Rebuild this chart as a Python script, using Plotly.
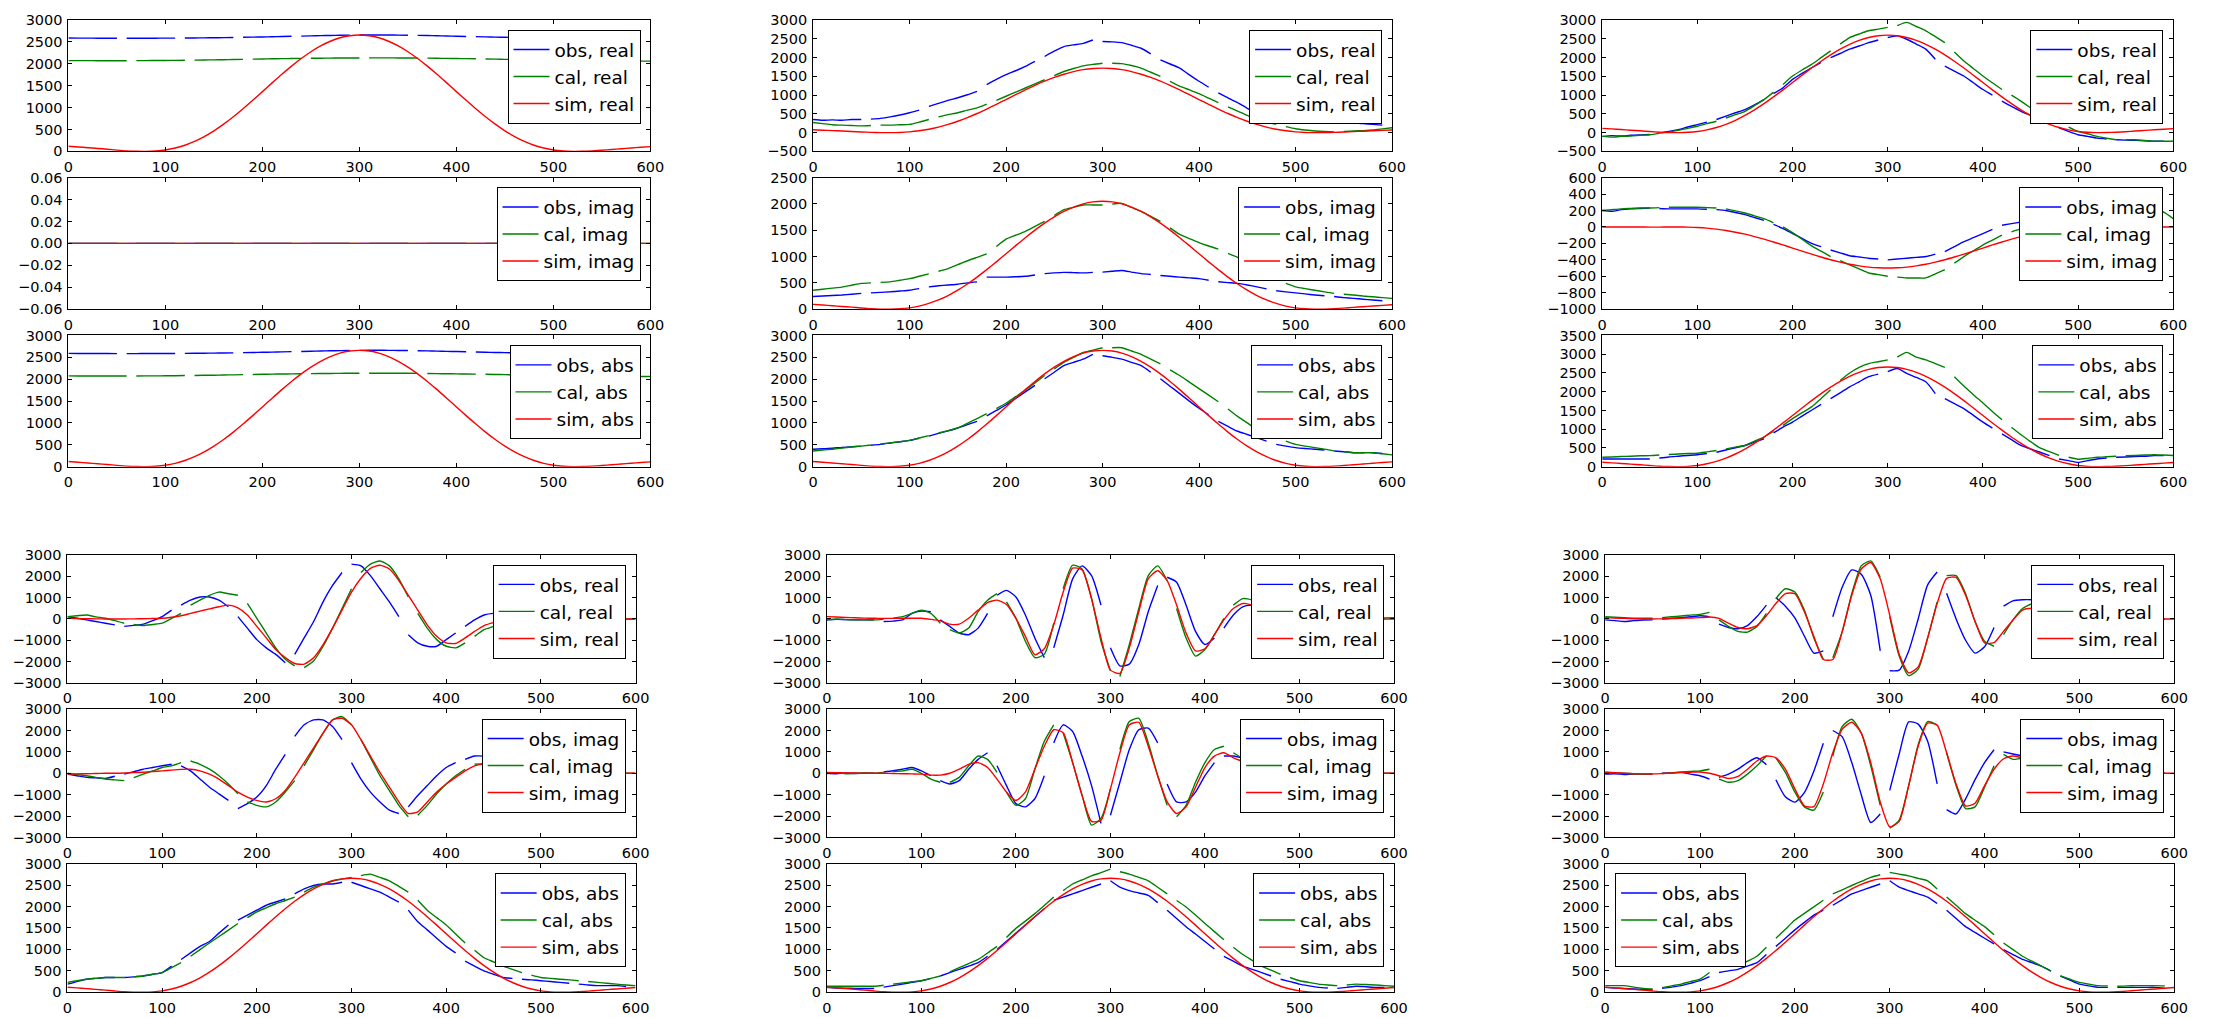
import plotly.graph_objects as go

# ---------------------------------------------------------------- data
X = list(range(0, 601, 10))

OBS_GAPS = [55, 115, 175, 235, 295, 355, 415, 475, 535, 595]
CAL_GAPS = [64, 124, 184, 244, 304, 364, 424, 484, 544]
CAL_GAPS_BR = [57, 117, 177, 237, 297, 357, 417, 477, 537, 597]

COMPONENTS = ["real", "imag", "abs"]

SIM_ABS = [118, 102, 85, 68, 50, 30, 12, 3, 1, 9,
           33, 77, 141, 228, 338, 470, 622, 791, 974, 1167,
           1366, 1566, 1762, 1949, 2122, 2277, 2410, 2517, 2596, 2644,
           2660, 2644, 2596, 2517, 2410, 2277, 2122, 1949, 1762, 1566,
           1366, 1167, 974, 791, 622, 470, 338, 228, 141, 77,
           33, 9, 1, 3, 12, 27, 44, 61, 78, 94, 110]

# top-left
TL_OBS = [2590, 2589, 2588, 2587, 2587, 2586, 2586, 2586, 2587, 2587,
          2588, 2589, 2590, 2592, 2594, 2597, 2600, 2603, 2607, 2611,
          2615, 2620, 2625, 2630, 2635, 2640, 2645, 2650, 2654, 2657,
          2660, 2661, 2661, 2660, 2658, 2655, 2651, 2647, 2642, 2637,
          2632, 2627, 2622, 2617, 2612, 2607, 2602, 2598, 2594, 2590,
          2586, 2583, 2580, 2578, 2576, 2574, 2572, 2570, 2568, 2566, 2565]
TL_CAL = [2075, 2074, 2074, 2073, 2073, 2073, 2073, 2074, 2075, 2076,
          2078, 2080, 2083, 2086, 2089, 2092, 2096, 2100, 2104, 2108,
          2112, 2116, 2119, 2122, 2125, 2128, 2130, 2132, 2134, 2135,
          2136, 2137, 2137, 2137, 2136, 2135, 2133, 2131, 2128, 2125,
          2122, 2119, 2116, 2112, 2108, 2104, 2100, 2096, 2092, 2088,
          2085, 2082, 2079, 2076, 2073, 2071, 2069, 2067, 2065, 2063, 2062]
TL_IMAG = [0.0] * 61

# top-middle
TM_OBS_REAL = [350, 330, 340, 330, 350, 350, 360, 380, 420, 470,
               530, 600, 700, 780, 860, 930, 1010, 1100, 1280, 1420,
               1545, 1650, 1765, 1900, 2030, 2170, 2295, 2340, 2380, 2470,
               2430, 2420, 2400, 2330, 2250, 2100, 1940, 1830, 1720, 1540,
               1370, 1210, 1060, 930, 800, 650, 520, 460, 420, 390,
               355, 330, 310, 290, 280, 270, 260, 240, 220, 200, 180]
TM_CAL_REAL = [270, 240, 210, 200, 190, 180, 190, 200, 200, 210,
               220, 280, 350, 420, 480, 530, 600, 660, 760, 860,
               970, 1080, 1190, 1300, 1410, 1520, 1630, 1710, 1780, 1820,
               1850, 1850, 1840, 1790, 1720, 1610, 1500, 1370, 1240, 1140,
               1040, 920, 800, 690, 575, 460, 355, 280, 220, 160,
               105, 70, 45, 30, 20, 30, 45, 55, 70, 100, 130]
TM_SIM_REAL = [76, 66, 55, 44, 32, 19, 8, 2, 1, 6,
               21, 50, 91, 147, 219, 304, 402, 511, 630, 755,
               883, 1013, 1139, 1260, 1372, 1472, 1558, 1628, 1679, 1710,
               1720, 1710, 1679, 1628, 1558, 1472, 1372, 1260, 1139, 1013,
               883, 755, 630, 511, 402, 304, 219, 147, 91, 50,
               21, 6, 1, 2, 8, 17, 28, 39, 50, 61, 71]
TM_OBS_IMAG = [240, 250, 260, 270, 285, 300, 310, 320, 330, 345,
               360, 390, 425, 445, 460, 475, 500, 520, 610, 610,
               610, 615, 625, 650, 675, 690, 700, 695, 690, 700,
               705, 720, 735, 705, 675, 660, 640, 625, 610, 595,
               580, 550, 520, 505, 490, 460, 425, 385, 350, 330,
               310, 290, 270, 255, 240, 220, 205, 190, 175, 160, 145]
TM_CAL_IMAG = [360, 380, 400, 420, 455, 490, 500, 510, 520, 550,
               580, 625, 670, 720, 770, 845, 920, 985, 1050, 1190,
               1330, 1405, 1480, 1575, 1670, 1780, 1890, 1935, 1980, 1980,
               1980, 1995, 2010, 1935, 1860, 1765, 1670, 1545, 1420, 1340,
               1265, 1200, 1140, 1060, 985, 890, 800, 675, 550, 490,
               425, 390, 360, 330, 300, 285, 270, 250, 235, 220, 205]
TM_SIM_IMAG = [91, 79, 66, 52, 39, 23, 9, 2, 1, 7,
               25, 59, 109, 176, 260, 362, 479, 610, 751, 899,
               1053, 1207, 1358, 1502, 1635, 1755, 1857, 1940, 2001, 2038,
               2050, 2038, 2001, 1940, 1857, 1755, 1635, 1502, 1358, 1207,
               1053, 899, 751, 610, 479, 362, 260, 176, 109, 59,
               25, 7, 1, 2, 9, 21, 34, 47, 60, 72, 85]
TM_OBS_ABS = [400, 410, 420, 440, 455, 470, 490, 510, 540, 570,
              600, 650, 700, 760, 820, 885, 960, 1035, 1160, 1285,
              1410, 1560, 1710, 1860, 2010, 2160, 2310, 2385, 2460, 2570,
              2535, 2500, 2460, 2385, 2310, 2160, 2010, 1840, 1670, 1500,
              1335, 1185, 1035, 920, 810, 735, 660, 585, 510, 470,
              435, 415, 400, 380, 360, 340, 320, 320, 320, 300, 285]
TM_CAL_ABS = [360, 380, 400, 425, 450, 470, 495, 520, 545, 570,
              600, 655, 710, 770, 825, 885, 990, 1100, 1215, 1330,
              1450, 1600, 1750, 1915, 2085, 2235, 2385, 2500, 2610, 2665,
              2720, 2720, 2720, 2645, 2570, 2460, 2350, 2215, 2085, 1935,
              1785, 1635, 1485, 1320, 1150, 1000, 850, 755, 660, 585,
              510, 470, 435, 400, 360, 340, 320, 320, 320, 295, 270]

# top-right
TR_OBS_REAL = [-100, -80, -90, -70, -60, -50, -10, 30, 80, 150,
               215, 280, 350, 440, 530, 615, 740, 880, 1040, 1195,
               1420, 1580, 1730, 1870, 2000, 2110, 2225, 2310, 2400, 2470,
               2535, 2580, 2490, 2360, 2225, 1955, 1775, 1640, 1510, 1330,
               1150, 1000, 840, 700, 570, 460, 350, 240, 125, 30,
               -55, -100, -145, -170, -190, -200, -205, -215, -230, -230, -230]
TR_CAL_REAL = [-100, -120, -100, -90, -70, -55, -20, 20, 60, 115,
               170, 240, 305, 390, 480, 570, 720, 880, 1080, 1285,
               1510, 1670, 1820, 2000, 2180, 2360, 2535, 2630, 2715, 2760,
               2805, 2850, 2940, 2830, 2715, 2560, 2400, 2150, 1910, 1710,
               1510, 1330, 1150, 1000, 840, 660, 480, 370, 260, 150,
               35, -30, -100, -150, -190, -190, -190, -210, -230, -230, -230]
TR_SIM_REAL = [115, 100, 83, 66, 49, 29, 12, 3, 1, 9,
               32, 75, 138, 223, 330, 459, 608, 773, 952, 1140,
               1335, 1530, 1722, 1904, 2073, 2225, 2355, 2459, 2536, 2583,
               2600, 2583, 2536, 2459, 2355, 2225, 2073, 1904, 1722, 1530,
               1335, 1140, 952, 773, 608, 459, 330, 223, 138, 75,
               32, 9, 1, 3, 12, 26, 43, 60, 76, 92, 108]
TR_OBS_IMAG = [200, 190, 210, 220, 225, 230, 225, 220, 220, 220,
               220, 215, 210, 200, 175, 150, 115, 80, 30, -20,
               -80, -140, -200, -240, -280, -315, -350, -365, -380, -390,
               -400, -390, -380, -370, -360, -330, -300, -240, -180, -130,
               -80, -30, 20, 40, 60, 80, 100, 125, 150, 165,
               180, 190, 200, 200, 200, 200, 200, 200, 200, 180, 150]
TR_CAL_IMAG = [200, 210, 220, 225, 230, 230, 235, 240, 240, 240,
               240, 235, 230, 220, 195, 170, 135, 100, 50, 0,
               -70, -150, -230, -295, -360, -410, -460, -510, -560, -580,
               -600, -610, -620, -620, -620, -570, -520, -440, -360, -290,
               -220, -160, -100, -60, -20, 15, 50, 75, 100, 125,
               150, 165, 180, 190, 200, 200, 200, 210, 220, 180, 100]
TR_SIM_IMAG = [0, 0, 0, 0, -1, -2, -2, -1, 0, -2,
               -6, -14, -27, -43, -64, -88, -117, -149, -183, -219,
               -257, -294, -331, -366, -399, -428, -453, -473, -488, -497,
               -500, -497, -488, -473, -453, -428, -399, -366, -331, -294,
               -257, -219, -183, -149, -117, -88, -64, -43, -27, -14,
               -6, -2, 0, -1, -2, -2, -1, 0, 0, 0, 0]
TR_OBS_ABS = [205, 205, 205, 205, 205, 205, 230, 260, 280, 300,
              320, 350, 385, 445, 505, 565, 655, 745, 900, 1055,
              1190, 1350, 1505, 1660, 1815, 1970, 2130, 2265, 2400, 2470,
              2535, 2620, 2490, 2380, 2265, 1950, 1815, 1680, 1550, 1370,
              1190, 1030, 875, 720, 565, 475, 385, 295, 205, 160,
              115, 160, 205, 230, 250, 260, 270, 280, 295, 295, 295]
TR_CAL_ABS = [250, 260, 270, 280, 290, 295, 310, 325, 340, 350,
              360, 395, 430, 475, 520, 565, 680, 790, 945, 1100,
              1280, 1440, 1595, 1820, 2050, 2300, 2500, 2650, 2750, 2800,
              2850, 2920, 3050, 2920, 2850, 2750, 2650, 2400, 2150, 1920,
              1700, 1470, 1250, 1050, 850, 670, 500, 400, 300, 250,
              200, 220, 250, 265, 280, 290, 300, 310, 320, 310, 300]

# bottom-left
BL_OBS_REAL = [110, 30, -45, -120, -200, -280, -350, -300, -245, -80,
               110, 415, 650, 880, 1030, 1030, 880, 570, 110, -430,
               -970, -1355, -1660, -2050, -1660, -890, -120, 800, 1570, 2180,
               2570, 2490, 2030, 1415, 800, 110, -740, -1120, -1280, -1280,
               -970, -660, -350, -45, 185, 260, 250, 200, 150, 110,
               80, 60, 40, 20, 10, 0, 0, 0, 0, 0, 0]
BL_CAL_REAL = [110, 150, 185, 100, 30, -80, -200, -260, -310, -260,
               -200, 30, 260, 650, 880, 1110, 1260, 1180, 1110, 725,
               30, -660, -1355, -1890, -2200, -2280, -1970, -1280, -430, 490,
               1415, 2180, 2570, 2720, 2490, 1880, 1030, 260, -430, -970,
               -1280, -1355, -1120, -815, -505, -350, -200, -120, -50, -20,
               0, 0, 0, 0, 0, 0, 0, 0, 0, 0, 0]
BL_SIM_REAL = [30, 20, 10, 5, 0, 0, 0, 5, 10, 20,
               30, 80, 150, 260, 370, 470, 570, 650, 520, 185,
               -350, -890, -1430, -1815, -2090, -2120, -1815, -1200, -430, 415,
               1260, 1910, 2370, 2520, 2340, 1800, 1110, 415, -275, -815,
               -1120, -1150, -890, -585, -310, -170, -80, -30, 0, 10,
               10, 5, 0, 0, 0, 0, 0, 0, 0, 0, 0]
BL_OBS_IMAG = [-40, -115, -190, -215, -240, -140, -40, 75, 190, 270,
               350, 420, 350, 115, -270, -650, -960, -1270, -1650, -1420,
               -1110, -575, 190, 880, 1725, 2265, 2495, 2495, 2190, 1570,
               500, -270, -880, -1340, -1725, -1880, -1570, -1035, -575, -115,
               270, 500, 650, 805, 800, 720, 600, 450, 300, 200,
               100, 50, 0, 0, 0, 0, 0, 0, 0, 0, 0]
BL_CAL_IMAG = [0, -60, -115, -190, -270, -310, -345, -200, -40, 110,
               270, 350, 500, 575, 420, 190, -115, -500, -960, -1340,
               -1500, -1570, -1340, -880, -345, 350, 1110, 1880, 2495, 2650,
               2265, 1570, 725, -115, -805, -1500, -2035, -1960, -1500, -960,
               -500, -115, 190, 420, 450, 400, 350, 280, 200, 140,
               80, 40, 0, 0, 0, 0, 0, 0, 0, 0, 0]
BL_SIM_IMAG = [-40, -30, -20, -10, 0, 0, 10, 30, 50, 80,
               115, 150, 180, 190, 115, -40, -270, -575, -880, -1110,
               -1270, -1340, -1190, -805, -190, 500, 1190, 1880, 2495, 2570,
               2265, 1570, 805, 40, -650, -1340, -1880, -1800, -1340, -880,
               -500, -190, 115, 350, 430, 380, 300, 200, 120, 60,
               20, 0, 0, 0, 0, 0, 0, 0, 0, 0, 0]
BL_OBS_ABS = [190, 250, 305, 325, 345, 345, 345, 360, 380, 420,
              460, 610, 765, 920, 1070, 1185, 1380, 1570, 1685, 1800,
              1915, 2030, 2105, 2180, 2295, 2410, 2490, 2525, 2525, 2565,
              2565, 2490, 2410, 2335, 2220, 2105, 1915, 1645, 1455, 1260,
              1070, 920, 725, 610, 500, 420, 345, 325, 305, 290,
              270, 250, 230, 210, 190, 170, 155, 155, 155, 135, 115]
BL_CAL_ABS = [230, 270, 305, 325, 345, 345, 345, 360, 380, 420,
              460, 575, 690, 840, 995, 1150, 1300, 1450, 1605, 1740,
              1875, 1970, 2065, 2140, 2220, 2335, 2450, 2525, 2600, 2640,
              2680, 2720, 2755, 2680, 2600, 2470, 2335, 2145, 1915, 1740,
              1570, 1360, 1150, 980, 805, 710, 610, 535, 460, 400,
              345, 325, 305, 290, 270, 250, 230, 210, 190, 170, 155]

# bottom-middle
BM_OBS_REAL = [-45, -20, -30, -40, -45, -45, -120, -100, -45, 260,
               370, 340, -45, -350, -660, -740, -430, 260, 1110, 1340,
               1030, 185, -890, -1815, -1355, 185, 1880, 2490, 2030, 650,
               -1355, -2200, -2120, -1200, 340, 1570, 1955, 1725, 650, -585,
               -1200, -890, -430, 185, 570, 650, 600, 450, 300, 180,
               100, 50, 20, 0, 0, 0, 0, 0, 0, 0, 0]
BM_CAL_REAL = [-45, 0, -30, -40, -45, -45, -20, 40, 110, 260,
               415, 260, -200, -505, -660, -430, 340, 880, 1185, 800,
               30, -1045, -1815, -1660, -200, 1415, 2520, 2340, 955, -1045,
               -2430, -2700, -1200, 490, 2030, 2490, 1800, 490, -890, -1740,
               -1430, -740, 30, 650, 955, 880, 500, 200, 0, 0,
               0, 0, 0, 0, 0, 0, 0, 0, 0, 0, 0]
BM_SIM_REAL = [110, 90, 70, 55, 40, 30, 25, 25, 30, 30,
               30, -20, -90, -245, -245, 30, 415, 770, 880, 680,
               30, -815, -1680, -1400, -275, 1260, 2380, 2300, 955, -890,
               -2400, -2550, -1355, 340, 1880, 2260, 1800, 650, -660, -1500,
               -1400, -740, -45, 490, 725, 650, 450, 250, 100, 30,
               0, 0, 0, 0, 0, 10, 20, 30, 40, 50, 60]
BM_OBS_IMAG = [0, -20, 10, -10, 0, 0, 60, 120, 190, 270,
               115, -115, -345, -500, -345, 190, 650, 960, 350, -575,
               -1420, -1570, -1190, -115, 1420, 2265, 1955, 805, -575, -2340,
               -1960, -420, 1110, 2035, 2110, 1420, -500, -1340, -1340, -880,
               -115, 500, 805, 805, 700, 550, 400, 250, 150, 100,
               50, 20, 0, 0, 0, 0, 0, 0, 0, 0, 0]
BM_CAL_IMAG = [0, 30, -20, 0, 10, 0, 40, 80, 115, 190,
               0, -270, -420, -420, -190, 350, 805, 650, 40, -880,
               -1500, -1190, 190, 1495, 2265, 1880, 500, -1035, -2420, -2110,
               -730, 1110, 2415, 2570, 1420, -115, -1500, -2035, -1500, -420,
               500, 1110, 1265, 960, 700, 500, 250, 120, 50, 20,
               0, 0, 0, 0, 0, 0, 0, 0, 0, 0, 0]
BM_SIM_IMAG = [40, 30, 20, 10, 5, 0, 0, -10, -20, -30,
               -40, -85, -85, 0, 190, 420, 500, 270, -270, -880,
               -1270, -880, 190, 1265, 2035, 1900, 500, -1035, -2250, -2200,
               -730, 960, 2265, 2380, 1265, -115, -1340, -1880, -1570, -650,
               270, 805, 960, 725, 550, 350, 200, 100, 30, 10,
               0, 0, 0, 0, 0, 0, 0, 0, 0, 0, 0]
BM_OBS_ABS = [115, 100, 95, 90, 90, 90, 120, 155, 190, 230,
              270, 325, 380, 460, 535, 610, 690, 840, 995, 1190,
              1380, 1570, 1760, 1950, 2145, 2220, 2295, 2370, 2450, 2525,
              2600, 2450, 2370, 2315, 2260, 2090, 1915, 1720, 1530, 1360,
              1185, 1010, 840, 725, 610, 535, 460, 380, 305, 250,
              190, 150, 115, 100, 90, 115, 140, 130, 115, 115, 115]
BM_CAL_ABS = [140, 140, 140, 140, 140, 140, 165, 190, 215, 245,
              270, 325, 380, 475, 575, 670, 765, 915, 1070, 1280,
              1490, 1660, 1835, 2025, 2220, 2370, 2525, 2620, 2715, 2790,
              2870, 2810, 2755, 2680, 2600, 2450, 2295, 2140, 1990, 1800,
              1605, 1415, 1225, 1050, 880, 745, 610, 515, 420, 345,
              270, 230, 190, 170, 155, 170, 190, 180, 170, 155, 140]

# bottom-right
BR_OBS_REAL = [-45, -80, -120, -80, -50, -45, 0, 30, 60, 100,
               150, 110, -245, -400, -460, -310, 110, 650, 1000, 600,
               50, -800, -1600, -1500, 100, 1500, 2300, 2100, 1110, -1500,
               -2430, -2400, -1500, 0, 1600, 2200, 1200, 0, -1000, -1600,
               -1300, -400, 600, 850, 900, 900, 850, 720, 600, 420,
               250, 170, 100, 50, 20, 0, 0, 0, 0, 0, 0]
BR_CAL_REAL = [110, 80, 60, 40, 30, 30, 60, 100, 140, 180,
               215, 310, -45, -350, -585, -615, -350, 260, 955, 1415,
               1260, 415, -890, -1890, -1815, -585, 1185, 2490, 2720, 1955,
               110, -1740, -2660, -2355, -890, 800, 2030, 2030, 1185, -120,
               -1045, -1280, -740, -45, 490, 700, 650, 450, 300, 150,
               50, 0, 0, 0, 0, 0, 0, 0, 0, 0, 0]
BR_SIM_REAL = [60, 40, 25, 10, 5, 0, 5, 15, 30, 45,
               60, 90, 30, -200, -400, -460, -310, 150, 725, 1190,
               1180, 340, -815, -1900, -1900, -585, 1110, 2340, 2645, 1880,
               185, -1660, -2530, -2250, -890, 725, 1900, 1950, 1110, -120,
               -1120, -1110, -585, -45, 415, 500, 450, 300, 150, 50,
               0, 0, 0, 0, 0, 0, 0, 0, 0, 0, 0]
BR_OBS_IMAG = [-40, -20, -60, -40, -40, -40, 0, 20, 40, -40,
               -115, -270, -190, -40, 190, 500, 725, 400, -300, -1100,
               -1350, -900, 100, 1400, 2000, 1700, 500, -1000, -2300, -1900,
               -800, 900, 2400, 2300, 1500, -500, -1700, -1900, -1200, -300,
               500, 1100, 1000, 900, 800, 650, 500, 350, 200, 100,
               50, 20, 0, 0, 0, 0, 0, 0, 0, 0, 0]
BR_CAL_IMAG = [40, 20, 0, -20, -40, -40, -10, 20, 60, 90,
               115, 190, -270, -420, -345, -40, 350, 805, 725, 40,
               -880, -1570, -1725, -880, 805, 2190, 2525, 1880, 350, -1500,
               -2570, -2185, -575, 1340, 2415, 2265, 960, -575, -1650, -1570,
               -650, 350, 880, 650, 700, 500, 300, 200, 100, 50,
               0, 0, 0, 0, 0, 0, 0, 0, 0, 0, 0]
BR_SIM_IMAG = [60, 30, 0, -20, -30, -30, -10, 10, 30, 50,
               60, 0, -115, -240, -150, 190, 575, 805, 725, 190,
               -730, -1520, -1560, -500, 960, 2065, 2385, 1880, 500, -1340,
               -2500, -2250, -575, 1265, 2340, 2250, 960, -500, -1530, -1400,
               -575, 190, 680, 805, 700, 500, 300, 200, 100, 50,
               0, 0, 0, 0, 0, 0, 0, 0, 0, 0, 0]
BR_OBS_ABS = [115, 100, 90, 75, 65, 60, 90, 120, 155, 210,
              270, 365, 460, 500, 535, 610, 690, 880, 1070, 1260,
              1455, 1630, 1800, 1915, 2030, 2160, 2295, 2370, 2450, 2525,
              2600, 2450, 2370, 2295, 2220, 2070, 1915, 1720, 1530, 1395,
              1260, 1130, 995, 880, 765, 690, 610, 495, 380, 285,
              190, 150, 115, 115, 115, 115, 115, 115, 115, 95, 75]
BR_CAL_ABS = [155, 155, 155, 120, 90, 75, 110, 150, 190, 250,
              305, 460, 610, 610, 610, 725, 840, 1050, 1260, 1470,
              1685, 1840, 1990, 2145, 2295, 2390, 2490, 2585, 2680, 2740,
              2795, 2755, 2715, 2655, 2600, 2410, 2220, 2030, 1835, 1680,
              1530, 1340, 1150, 995, 840, 725, 610, 495, 380, 305,
              230, 190, 155, 150, 140, 150, 155, 155, 155, 150, 140]

# y-axis ranges / tick steps per panel row
TL_YRANGES = [(0, 3000, 500), (-0.06, 0.06, 0.02), (0, 3000, 500)]
TM_YRANGES = [(-500, 3000, 500), (0, 2500, 500), (0, 3000, 500)]
TR_YRANGES = [(-500, 3000, 500), (-1000, 600, 200), (0, 3500, 500)]
BOT_YRANGES = [(-3000, 3000, 1000), (-3000, 3000, 1000), (0, 3000, 500)]

# ---------------------------------------------------------------- layout geometry (pixels)
W, H = 2218, 1018
TOP_COLS = [(64, 651), (815, 1399), (1611, 2187)]
TOP_ROWS = [(12.3, 145.7), (172.3, 306), (332.7, 466)]
BOT_COLS = [(63, 636), (829, 1401), (1614, 2188)]
BOT_ROWS = [(555.7, 685.7), (712.3, 842.7), (869.3, 1000)]

BLUE, GREEN, RED = "#0000ff", "#008000", "#ff0000"
FONT = "DejaVu Sans"

PANELS = [
    dict(col=TOP_COLS[0], rows=TOP_ROWS, yr=TL_YRANGES, cal_gaps=CAL_GAPS, left=[False] * 3,
         series=[(TL_OBS, TL_CAL, SIM_ABS), (TL_IMAG, TL_IMAG, TL_IMAG), (TL_OBS, TL_CAL, SIM_ABS)]),
    dict(col=TOP_COLS[1], rows=TOP_ROWS, yr=TM_YRANGES, cal_gaps=CAL_GAPS, left=[False] * 3,
         series=[(TM_OBS_REAL, TM_CAL_REAL, TM_SIM_REAL), (TM_OBS_IMAG, TM_CAL_IMAG, TM_SIM_IMAG),
                 (TM_OBS_ABS, TM_CAL_ABS, SIM_ABS)]),
    dict(col=TOP_COLS[2], rows=TOP_ROWS, yr=TR_YRANGES, cal_gaps=CAL_GAPS, left=[False] * 3,
         series=[(TR_OBS_REAL, TR_CAL_REAL, TR_SIM_REAL), (TR_OBS_IMAG, TR_CAL_IMAG, TR_SIM_IMAG),
                 (TR_OBS_ABS, TR_CAL_ABS, SIM_ABS)]),
    dict(col=BOT_COLS[0], rows=BOT_ROWS, yr=BOT_YRANGES, cal_gaps=CAL_GAPS, left=[False] * 3,
         series=[(BL_OBS_REAL, BL_CAL_REAL, BL_SIM_REAL), (BL_OBS_IMAG, BL_CAL_IMAG, BL_SIM_IMAG),
                 (BL_OBS_ABS, BL_CAL_ABS, SIM_ABS)]),
    dict(col=BOT_COLS[1], rows=BOT_ROWS, yr=BOT_YRANGES, cal_gaps=CAL_GAPS, left=[False] * 3,
         series=[(BM_OBS_REAL, BM_CAL_REAL, BM_SIM_REAL), (BM_OBS_IMAG, BM_CAL_IMAG, BM_SIM_IMAG),
                 (BM_OBS_ABS, BM_CAL_ABS, SIM_ABS)]),
    dict(col=BOT_COLS[2], rows=BOT_ROWS, yr=BOT_YRANGES, cal_gaps=CAL_GAPS_BR, left=[False, False, True],
         series=[(BR_OBS_REAL, BR_CAL_REAL, BR_SIM_REAL), (BR_OBS_IMAG, BR_CAL_IMAG, BR_SIM_IMAG),
                 (BR_OBS_ABS, BR_CAL_ABS, SIM_ABS)]),
]


def with_gaps(xs, ys, gaps):
    ox, oy = [], []
    for i, (x, y) in enumerate(zip(xs, ys)):
        if i > 0:
            for g in gaps:
                if xs[i - 1] < g < x:
                    ox.append(g)
                    oy.append(None)
        ox.append(x)
        oy.append(y)
    return ox, oy


fig = go.Figure()
layout = dict(
    width=W, height=H, autosize=False,
    margin=dict(l=0, r=0, t=0, b=0, pad=0),
    paper_bgcolor="white", plot_bgcolor="white",
    font=dict(family=FONT, size=14.5, color="black"),
    showlegend=True,
)

k = 0
for panel in PANELS:
    x0, x1 = panel["col"]
    for r in range(3):
        k += 1
        sfx = "" if k == 1 else str(k)
        y0, y1 = panel["rows"][r]
        lo, hi, step = panel["yr"][r]
        comp = COMPONENTS[r]
        obs, cal, sim = panel["series"][r]
        for arr in (obs, cal, sim):
            if len(arr) != len(X):
                raise ValueError("bad length %d in panel %d row %d" % (len(arr), k, r))
        entries = [("obs", obs, BLUE, OBS_GAPS), ("cal", cal, GREEN, panel["cal_gaps"]), ("sim", sim, RED, [])]
        for name, ys, color, gaps in entries:
            gx, gy = with_gaps(X, ys, gaps)
            fig.add_trace(go.Scatter(
                x=gx, y=gy, mode="lines", name=f"{name}, {comp}",
                line=dict(color=color, width=1.4, shape="spline", smoothing=0.6),
                xaxis="x" + sfx, yaxis="y" + sfx, legend="legend" + sfx,
                hoverinfo="skip", showlegend=True,
            ))
        axis_common = dict(
            showline=True, linecolor="black", linewidth=1, mirror="ticks",
            ticks="inside", ticklen=4, tickwidth=1, tickcolor="black",
            showgrid=False, zeroline=False, fixedrange=True,
            tickfont=dict(family=FONT, size=14.5, color="black"),
        )
        layout["xaxis" + sfx] = dict(
            axis_common, domain=[x0 / W, x1 / W], range=[0, 600], tick0=0, dtick=100,
            anchor="y" + sfx, ticklabelstandoff=2,
        )
        ydict = dict(
            axis_common, domain=[1 - y1 / H, 1 - y0 / H], range=[lo, hi], tick0=lo, dtick=step,
            anchor="x" + sfx, ticklabelstandoff=2,
        )
        if step < 1:
            ydict["tickformat"] = ".2f"
        layout["yaxis" + sfx] = ydict
        if panel["left"][r]:
            lx, xa = (x0 + 10) / W, "left"
        else:
            lx, xa = (x1 - 10) / W, "right"
        layout["legend" + sfx] = dict(
            x=lx, xanchor=xa, y=1 - (y0 + 10) / H, yanchor="top",
            bgcolor="white", bordercolor="black", borderwidth=1,
            font=dict(family=FONT, size=18.5, color="black"),
            traceorder="normal", itemwidth=36,
        )

fig.update_layout(**layout)
fig.write_html("out.html")
